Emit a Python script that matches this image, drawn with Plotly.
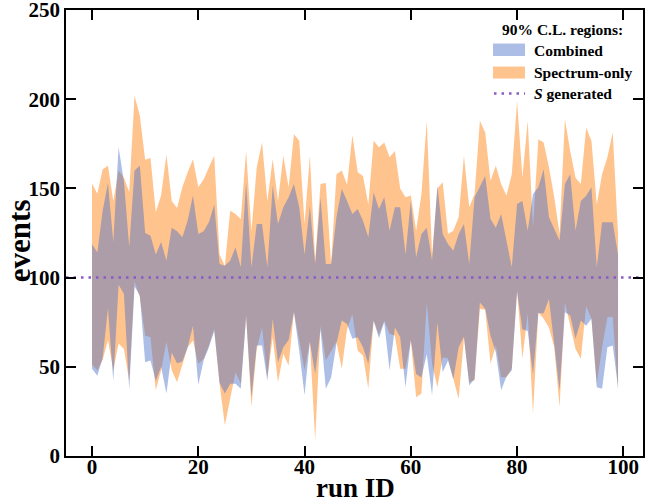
import plotly.graph_objects as go

runs = list(range(100))

combined_upper = [118.8, 114, 137.5, 153, 120, 173, 154, 117, 160, 162.7,
                  125, 123.5, 113, 120, 109.5, 128, 126, 122.6, 132, 146,
                  124.4, 126, 131, 141, 107.6, 106.7, 109.5, 117, 105.8, 153.4,
                  105.8, 130, 130, 105.8, 151.5, 130, 139.4, 145, 152.4, 139.4,
                  113, 140, 107.6, 145, 107.6, 107.6, 133.8, 149.6, 143, 135.6,
                  138.4, 131.9, 122.6, 147.8, 138.4, 145, 126.3, 139.4, 139.4, 113,
                  143, 111.4, 124.4, 128, 109.5, 151.5, 124.4, 118.8, 115, 124.4,
                  130, 107.6, 145, 151.5, 157, 132.8, 128, 135.6, 120.7, 105.8,
                  141.2, 143, 126.3, 146.8, 150.6, 160.8, 133.8, 127.2, 120.7, 152.4,
                  158, 126.3, 143, 145.9, 150.6, 105.8, 131, 131, 131, 113]

combined_lower = [48.9, 45, 55, 83, 42, 96, 91, 37, 95, 90,
                  52.6, 53.5, 42, 50, 35, 58, 52, 53, 61, 73,
                  40, 53.5, 61, 70, 41, 35, 40.5, 40.5, 37.7, 78,
                  33, 62, 62, 42, 77, 52.6, 61, 65, 80.6, 59,
                  34, 64, 46, 71, 37.7, 44, 63, 76, 74, 65.7,
                  66.6, 61, 51.7, 75.9, 66, 75, 48, 72, 66.6, 38.6,
                  65, 46, 44, 57, 34, 75, 47, 53.5, 43, 61,
                  67, 39.5, 43.3, 86, 82.5, 67.5, 58, 36.8, 44.5, 48,
                  92, 71, 70, 46, 80, 80, 88, 61, 36.8, 80.6,
                  78.7, 65.7, 75.9, 73, 77, 38.6, 37.7, 61, 62, 38.6]

spectrum_upper = [152.8, 147, 160.8, 162.7, 143, 160, 156, 148, 202, 190.7,
                  166, 167, 136.6, 146, 169, 143, 139, 150.6, 159, 166.4,
                  150.6, 155, 161.8, 168.3, 113, 106.7, 137.5, 135.6, 132.8, 171,
                  126, 161.8, 175.7, 143, 166.4, 143, 168.3, 150.6, 180.4, 176.7,
                  130, 168.3, 109.5, 152.4, 153, 107.6, 158, 160, 152, 180,
                  159, 157, 141, 176.7, 173, 175.7, 167.4, 171, 150, 145,
                  146, 126.3, 146.8, 187.9, 113, 150, 153.4, 124.4, 126.3, 133.8,
                  168.3, 139.4, 146.8, 187.9, 181.3, 154.3, 162.7, 152.4, 146, 158,
                  199, 156, 187.9, 128.2, 177.6, 175.7, 161.8, 145, 124.4, 188.8,
                  171, 156, 152.4, 184, 176.7, 141, 158, 167.4, 181.3, 124.4]

spectrum_lower = [51.3, 48, 54, 65, 48, 63, 60, 42, 98, 89,
                  67.5, 66.6, 36.8, 48, 64, 48, 41.4, 50.7, 61, 64.7,
                  51.7, 54.5, 62, 71.3, 40.5, 17.2, 33, 47, 40.5, 78.7,
                  27.4, 60, 72, 44, 66.6, 41.4, 57.3, 50.7, 81, 64.7,
                  48, 64, 8.8, 73, 53.5, 59, 64, 48.9, 71, 79.6,
                  59, 56.3, 37.7, 76, 68, 76, 68.5, 67.5, 48.9, 48.9,
                  64.7, 33, 35, 86, 51.7, 38.6, 55.4, 54.6, 43.3, 32,
                  66, 41.4, 42.5, 82.5, 82, 51.7, 62, 44.2, 44.2, 49,
                  93, 54.6, 80, 23.7, 80.6, 77, 72, 61, 27.4, 86,
                  74, 60, 54.5, 84, 77, 40.5, 61, 77.8, 78, 36.8]

s_generated = 100
x_ticks = [0, 20, 40, 60, 80, 100]
y_ticks = [0, 50, 100, 150, 200, 250]

x_title = "run ID"
y_title = "events"
legend_title = "90% C.L. regions:"
legend_labels = ["Combined", "Spectrum-only", "<i>S</i> generated"]

FONT = "Liberation Serif"
BLUE = "rgba(70,110,200,0.45)"
ORANGE = "rgba(255,127,14,0.47)"
PURPLE = "rgb(140,90,200)"
DOT = "2.5px,5px"

fig = go.Figure()

fig.add_trace(go.Scatter(
    x=runs + runs[::-1],
    y=spectrum_upper + spectrum_lower[::-1],
    fill="toself", fillcolor=ORANGE,
    line=dict(width=0), mode="lines", name="Spectrum-only",
    showlegend=False, hoverinfo="skip"))

fig.add_trace(go.Scatter(
    x=runs + runs[::-1],
    y=combined_upper + combined_lower[::-1],
    fill="toself", fillcolor=BLUE,
    line=dict(width=0), mode="lines", name="Combined",
    showlegend=False, hoverinfo="skip"))

fig.add_trace(go.Scatter(
    x=[-4.9, 103.7], y=[s_generated, s_generated],
    mode="lines", line=dict(color=PURPLE, width=2.5, dash=DOT),
    name="S generated", showlegend=False, hoverinfo="skip"))

axis_common = dict(
    showline=True, linecolor="black", linewidth=1.5, mirror="ticks",
    ticks="inside", ticklen=10, tickwidth=1.5, tickcolor="black",
    showgrid=False, zeroline=False, ticklabeloverflow="allow", automargin=False,
    tickfont=dict(family=FONT, size=21, color="black", weight="bold"),
)

fig.update_xaxes(range=[-4.9, 103.7], tickvals=x_ticks, ticklabelstandoff=-9, **axis_common)
fig.update_yaxes(range=[0, 250], tickvals=y_ticks, **axis_common)

# plot area in pixels: x 66..643, y 455.7 (bottom) .. 10 (top)
TOP = 10.0
BOT = 455.7

def px_x(p):
    return (p - 66) / 577.0

def px_y(p):
    return (BOT - p) / (BOT - TOP)

shapes = [
    dict(type="rect", xref="paper", yref="paper",
         x0=px_x(493), x1=px_x(525), y0=px_y(56), y1=px_y(43.5),
         fillcolor=BLUE, line=dict(width=0)),
    dict(type="rect", xref="paper", yref="paper",
         x0=px_x(493), x1=px_x(525), y0=px_y(78.5), y1=px_y(66.5),
         fillcolor=ORANGE, line=dict(width=0)),
    dict(type="line", xref="paper", yref="paper",
         x0=px_x(494), x1=px_x(525), y0=px_y(93.5), y1=px_y(93.5),
         line=dict(color=PURPLE, width=2.5, dash=DOT)),
]

annotations = [
    dict(text="<b>" + x_title + "</b>", xref="paper", yref="paper",
         x=px_x(355), y=px_y(488), xanchor="center", yanchor="middle",
         showarrow=False, font=dict(family=FONT, size=27, color="black")),
    dict(text="<b>" + y_title + "</b>", xref="paper", yref="paper",
         x=px_x(19), y=px_y(240), xanchor="center", yanchor="middle", textangle=-90,
         showarrow=False, font=dict(family=FONT, size=31, color="black")),
    dict(text="<b>" + legend_title + "</b>", xref="paper", yref="paper",
         x=px_x(562), y=px_y(29), xanchor="center", yanchor="middle",
         showarrow=False, font=dict(family=FONT, size=15.5, color="black")),
]
for lab, ypix in zip(legend_labels, [50, 72.5, 93.5]):
    annotations.append(dict(
        text="<b>" + lab + "</b>", xref="paper", yref="paper",
        x=px_x(532), y=px_y(ypix), xanchor="left", yanchor="middle",
        showarrow=False, font=dict(family=FONT, size=15.5, color="black")))

fig.update_layout(
    width=646, height=504,
    margin=dict(l=66, r=3, t=TOP, b=504 - BOT, autoexpand=False),
    plot_bgcolor="white", paper_bgcolor="white",
    showlegend=False,
    shapes=shapes, annotations=annotations,
)

fig.write_html("out.html")
